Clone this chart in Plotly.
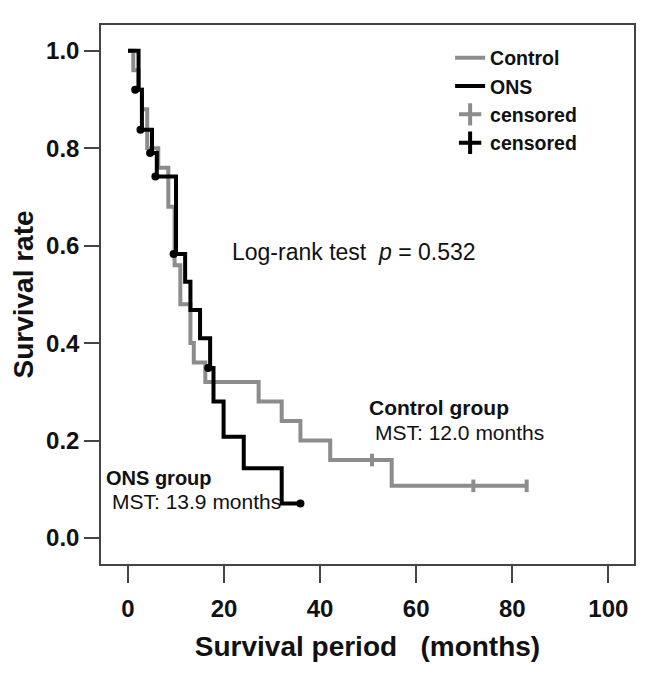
import plotly.graph_objects as go

# ---------------- data ----------------
# Control group: event times (months) and survival after each drop
control_times = [1.1, 2.2, 2.9, 4.0, 6.3, 8.4, 9.7, 10.9, 13.0, 13.7, 16.1, 27.2, 32.0, 35.9, 42.1, 54.9]
control_surv = [0.96, 0.92, 0.88, 0.80, 0.76, 0.68, 0.56, 0.48, 0.40, 0.36, 0.32, 0.28, 0.24, 0.20, 0.16, 0.107]
control_cens_t = [50.8, 71.9, 83.0]
control_cens_s = [0.16, 0.107, 0.107]

# ONS group
ons_times = [2.2, 2.9, 5.0, 6.0, 10.0, 11.9, 13.0, 15.0, 17.1, 17.8, 19.9, 24.1, 32.0]
ons_surv = [0.92, 0.838, 0.79, 0.742, 0.583, 0.526, 0.468, 0.41, 0.349, 0.28, 0.208, 0.143, 0.071]
ons_cens_t = [1.5, 2.6, 4.6, 5.7, 9.5, 16.7, 35.9]
ons_cens_s = [0.92, 0.838, 0.79, 0.742, 0.583, 0.349, 0.071]

x_ticks = [0, 20, 40, 60, 80, 100]
y_ticks = [0.0, 0.2, 0.4, 0.6, 0.8, 1.0]

GRAY = "#8c8c8c"
BLACK = "#000000"
FONT = "Arial, Liberation Sans, sans-serif"


def km_path(times, surv, last_t):
    xs = [0] + list(times)
    ys = [1.0] + list(surv)
    if last_t > xs[-1]:
        xs.append(last_t)
        ys.append(ys[-1])
    return xs, ys


cx, cy = km_path(control_times, control_surv, max(control_cens_t))
ox, oy = km_path(ons_times, ons_surv, max(ons_cens_t))

fig = go.Figure()

fig.add_trace(go.Scatter(x=cx, y=cy, mode="lines", line=dict(color=GRAY, width=4, shape="hv"),
                         name="Control"))
fig.add_trace(go.Scatter(x=ox, y=oy, mode="lines", line=dict(color=BLACK, width=4, shape="hv"),
                         name="ONS"))
# censored marks drawn on the curves
fig.add_trace(go.Scatter(x=control_cens_t, y=control_cens_s, mode="markers",
                         marker=dict(symbol="line-ns", size=9, color=GRAY,
                                     line=dict(color=GRAY, width=4)),
                         showlegend=False, hoverinfo="skip"))
fig.add_trace(go.Scatter(x=ons_cens_t, y=ons_cens_s, mode="markers",
                         marker=dict(symbol="circle", size=8, color=BLACK),
                         showlegend=False, hoverinfo="skip"))
# legend entries for censored
fig.add_trace(go.Scatter(x=[None], y=[None], mode="markers", name="censored",
                         marker=dict(symbol="cross-thin", size=16, color=GRAY,
                                     line=dict(color=GRAY, width=4))))
fig.add_trace(go.Scatter(x=[None], y=[None], mode="markers", name="censored",
                         marker=dict(symbol="cross-thin", size=16, color=BLACK,
                                     line=dict(color=BLACK, width=4))))

fig.add_annotation(x=47.1, y=0.587, xref="x", yref="y", showarrow=False,
                   text="Log-rank test\u00a0\u00a0<i>p</i> = 0.532",
                   font=dict(family=FONT, size=23, color="#111"))
fig.add_annotation(x=49.8, y=0.267, xref="x", yref="y", showarrow=False, xanchor="left",
                   text="<b>Control group</b>", font=dict(family=FONT, size=21, color="#111"))
fig.add_annotation(x=51.0, y=0.216, xref="x", yref="y", showarrow=False, xanchor="left",
                   text="MST: 12.0 months", font=dict(family=FONT, size=21, color="#111"))
fig.add_annotation(x=-4.9, y=0.123, xref="x", yref="y", showarrow=False, xanchor="left",
                   text="<b>ONS group</b>", font=dict(family=FONT, size=20, color="#111"))
fig.add_annotation(x=-3.7, y=0.074, xref="x", yref="y", showarrow=False, xanchor="left",
                   text="MST: 13.9 months", font=dict(family=FONT, size=21, color="#111"))

# the page adds an 8 px body margin, so the figure is 8 px smaller than the window
fig.update_layout(
    width=638, height=667,
    margin=dict(l=93, r=12, t=17, b=111, autoexpand=False),
    paper_bgcolor="white", plot_bgcolor="white",
    font=dict(family=FONT, color="#111"),
    legend=dict(x=0.655, y=0.975, xanchor="left", yanchor="top",
                font=dict(family=FONT, size=19.5, color="#111", weight="bold"),
                bgcolor="rgba(0,0,0,0)", tracegroupgap=0, itemwidth=30),
    showlegend=True,
)

fig.update_xaxes(
    range=[-5.62, 105.35], tickvals=x_ticks, ticktext=[str(v) for v in x_ticks],
    showgrid=False, zeroline=False, automargin=False,
    showline=True, mirror=True, linecolor="#444", linewidth=1.5,
    ticks="outside", ticklen=17, tickwidth=2, tickcolor="#444",
    tickfont=dict(family=FONT, size=24, color="#111", weight="bold"),
    ticklabelstandoff=5,
    title=dict(text="Survival period\u00a0\u00a0\u00a0(months)", standoff=16,
               font=dict(family=FONT, size=28, color="#111", weight="bold")),
)
fig.update_yaxes(
    range=[-0.0534, 1.053], tickvals=y_ticks, ticktext=[f"{v:.1f}" for v in y_ticks],
    showgrid=False, zeroline=False, automargin=False,
    showline=True, mirror=True, linecolor="#444", linewidth=1.5,
    ticks="outside", ticklen=15, tickwidth=2, tickcolor="#444",
    tickfont=dict(family=FONT, size=24, color="#111", weight="bold"),
    title=dict(text="Survival rate", standoff=14,
               font=dict(family=FONT, size=28, color="#111", weight="bold")),
)

fig.write_html("out.html")
